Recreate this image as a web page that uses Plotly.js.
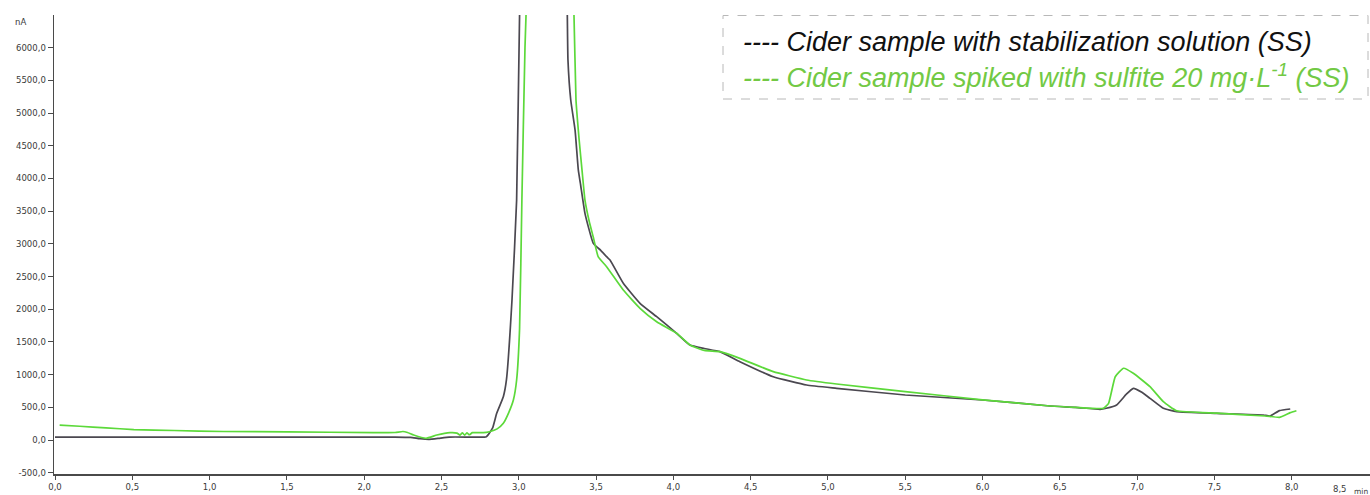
<!DOCTYPE html>
<html>
<head>
<meta charset="utf-8">
<script src="https://cdn.plot.ly/plotly-3.0.1.min.js"></script>
<style>
  html, body { margin: 0; padding: 0; background: #fff; }
  #chart { width: 1370px; height: 495px; }
</style>
</head>
<body>
<div id="chart"></div>
<script>
// Retention time (min) and detector current (nA): cider with stabilization solution
const tBase = [0, 0.5, 1.0, 1.5, 2.0, 2.2, 2.3, 2.36, 2.42, 2.48, 2.55, 2.7, 2.79, 2.83, 2.857, 2.90, 2.92, 2.956, 2.986, 3.005, 3.02, 3.17, 3.31, 3.318, 3.336, 3.364, 3.385, 3.40, 3.428, 3.482, 3.53, 3.568, 3.59, 3.676, 3.784, 3.892, 4.021, 4.107, 4.20, 4.301, 4.43, 4.646, 4.862, 5.056, 5.5, 6.0, 6.436, 6.6, 6.76, 6.80, 6.867, 6.93, 6.975, 7.03, 7.083, 7.169, 7.255, 7.514, 7.816, 7.86, 7.92, 7.99];
const iBase = [45, 45, 45, 45, 45, 45, 40, 20, 10, 25, 45, 45, 50, 180, 408, 662, 918, 2141, 3670, 6500, 7500, 12000, 7000, 5812, 5200, 4740, 4130, 3900, 3467, 3008, 2900, 2804, 2753, 2397, 2091, 1886, 1632, 1453, 1400, 1351, 1198, 968, 841, 791, 688, 612, 520, 500, 469, 485, 535, 700, 790, 730, 637, 485, 434, 408, 382, 367, 449, 474];

// Cider spiked with sulfite 20 mg/L
const tSpiked = [0.03, 0.16, 0.33, 0.51, 0.77, 1.09, 1.5, 2.06, 2.2, 2.25, 2.28, 2.32, 2.40, 2.47, 2.555, 2.6, 2.62, 2.635, 2.65, 2.665, 2.68, 2.70, 2.77, 2.81, 2.86, 2.90, 2.935, 2.965, 2.986, 3.005, 3.02, 3.04, 3.055, 3.2, 3.345, 3.357, 3.37, 3.39, 3.41, 3.428, 3.455, 3.482, 3.514, 3.568, 3.676, 3.784, 3.892, 4.021, 4.107, 4.20, 4.301, 4.43, 4.646, 4.862, 5.056, 5.5, 6.0, 6.436, 6.6, 6.78, 6.815, 6.858, 6.912, 6.975, 7.083, 7.169, 7.255, 7.514, 7.83, 7.92, 7.99, 8.03];
const iSpiked = [229, 210, 185, 160, 145, 130, 125, 112, 115, 130, 115, 76, 26, 76, 112, 105, 75, 110, 75, 110, 80, 112, 112, 127, 170, 255, 420, 612, 918, 1700, 3670, 6000, 7000, 12000, 7000, 6500, 5200, 4600, 4100, 3670, 3350, 3100, 2800, 2651, 2294, 2014, 1809, 1632, 1453, 1370, 1351, 1249, 1045, 918, 856, 740, 615, 520, 500, 485, 561, 968, 1097, 1020, 815, 586, 448, 410, 367, 347, 418, 448];

// Axis ticks
const yTickVals = [-500, 0, 500, 1000, 1500, 2000, 2500, 3000, 3500, 4000, 4500, 5000, 5500, 6000];
const yTickText = ['-500,0', '0,0', '500,0', '1000,0', '1500,0', '2000,0', '2500,0', '3000,0', '3500,0', '4000,0', '4500,0', '5000,0', '5500,0', '6000,0'];
const xTickVals = [0, 0.5, 1, 1.5, 2, 2.5, 3, 3.5, 4, 4.5, 5, 5.5, 6, 6.5, 7, 7.5, 8];
const xTickText = ['0,0', '0,5', '1,0', '1,5', '2,0', '2,5', '3,0', '3,5', '4,0', '4,5', '5,0', '5,5', '6,0', '6,5', '7,0', '7,5', '8,0'];

const legendBase = 'Cider sample with stabilization solution (SS)';
const legendSpiked = 'Cider sample spiked with sulfite 20 mg·L<sup>-1</sup> (SS)';

// plot area in pixels, used to place the free-standing labels
const W = 1370, H = 495;
const M = { l: 54, r: 0, t: 15, b: 21 };
const pw = W - M.l - M.r, ph = H - M.t - M.b;
const px = x => (x - M.l) / pw;
const py = y => (H - M.b - y) / ph;

const tickFont = { family: 'DejaVu Sans, Verdana, sans-serif', size: 8.5, color: '#3a3a3a' };
const legendFont = 'Liberation Sans, Arial, sans-serif';

const traces = [
  {
    x: tBase, y: iBase, type: 'scatter', mode: 'lines',
    line: { color: '#4b4850', width: 1.7, shape: 'spline', smoothing: 0.4 }, hoverinfo: 'skip'
  },
  {
    x: tSpiked, y: iSpiked, type: 'scatter', mode: 'lines',
    line: { color: '#5cd93a', width: 1.7, shape: 'spline', smoothing: 0.4 }, hoverinfo: 'skip'
  }
];

const layout = {
  width: W, height: H,
  margin: M,
  paper_bgcolor: '#ffffff', plot_bgcolor: '#ffffff',
  showlegend: false,
  xaxis: {
    range: [-0.0065, 8.506],
    showgrid: false, zeroline: false,
    showline: true, linecolor: '#4a4a4a', linewidth: 1.5,
    ticks: 'outside', ticklen: 4, tickwidth: 1, tickcolor: '#4a4a4a',
    tickvals: xTickVals, ticktext: xTickText,
    tickfont: tickFont
  },
  yaxis: {
    range: [-520, 6500],
    showgrid: false, zeroline: false,
    showline: true, linecolor: '#4a4a4a', linewidth: 1.5,
    ticks: 'outside', ticklen: 5, tickwidth: 1, tickcolor: '#4a4a4a',
    tickvals: yTickVals, ticktext: yTickText,
    tickfont: tickFont
  },
  shapes: [
    {
      type: 'rect', xref: 'paper', yref: 'paper',
      x0: px(723), x1: px(1368), y0: py(99), y1: py(15.5),
      line: { color: '#b8b8b8', width: 1, dash: 'dash' },
      fillcolor: 'rgba(255,255,255,0)'
    }
  ],
  annotations: [
    {
      xref: 'paper', yref: 'paper', x: px(13), y: py(22),
      xanchor: 'left', yanchor: 'middle', showarrow: false,
      text: 'nA', font: tickFont
    },
    {
      xref: 'paper', yref: 'paper', x: px(1340), y: py(489),
      xanchor: 'center', yanchor: 'middle', showarrow: false,
      text: '8,5', font: tickFont
    },
    {
      xref: 'paper', yref: 'paper', x: px(1352), y: py(491),
      xanchor: 'left', yanchor: 'middle', showarrow: false,
      text: 'min', font: { family: tickFont.family, size: 7.5, color: '#3a3a3a' }
    },
    {
      xref: 'paper', yref: 'paper', x: px(741), y: py(42),
      xanchor: 'left', yanchor: 'middle', showarrow: false,
      text: '<i>---- ' + legendBase + '</i>',
      font: { family: legendFont, size: 27, color: '#111111' }
    },
    {
      xref: 'paper', yref: 'paper', x: px(741), y: py(76),
      xanchor: 'left', yanchor: 'middle', showarrow: false,
      text: '<i>---- ' + legendSpiked + '</i>',
      font: { family: legendFont, size: 27, color: '#72c944' }
    }
  ]
};

Plotly.newPlot('chart', traces, layout, { staticPlot: true, displayModeBar: false });
</script>
</body>
</html>
